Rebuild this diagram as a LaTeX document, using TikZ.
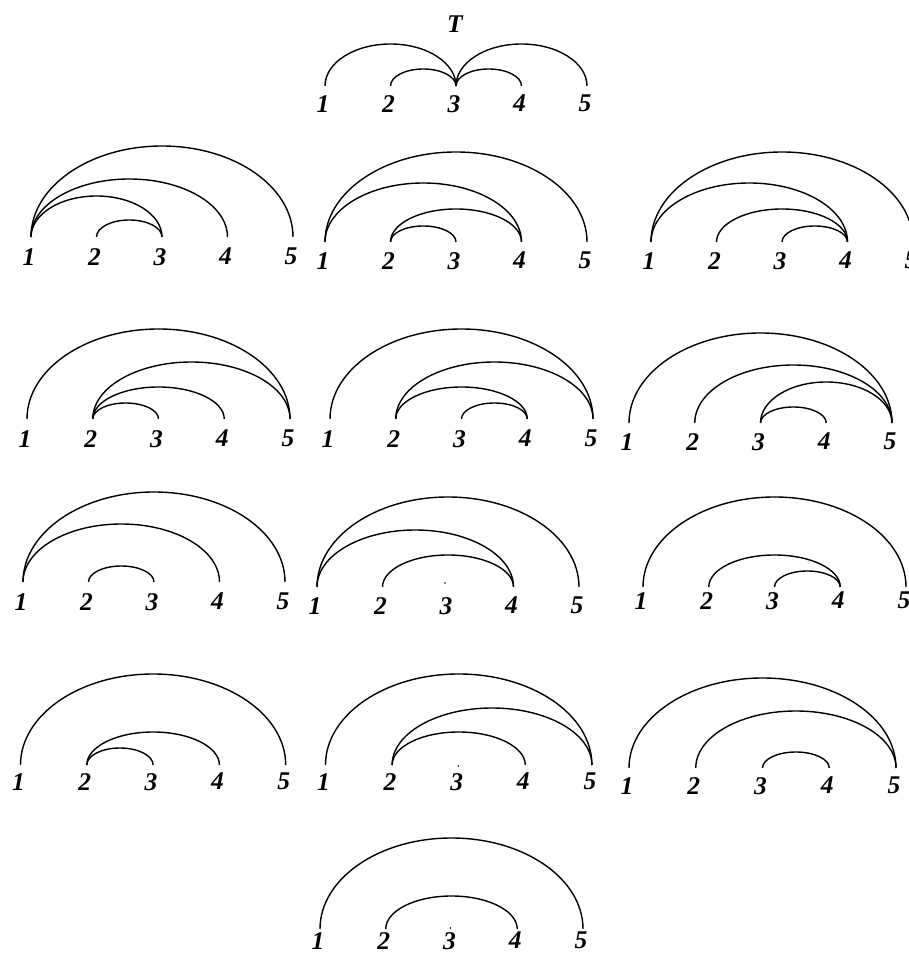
\documentclass[tikz,border=0pt]{standalone}
\usepackage{fontspec}
\setmainfont{Liberation Serif}
\usetikzlibrary{calc,positioning}

\tikzset{
  num/.style={font=\fontsize{25.5}{29}\selectfont\bfseries\itshape, inner sep=0pt},
  chord/.style={line width=1.4pt},
}
% five points of one diagram with their numbers: name, x of 1, y, step, gap
\newcommand{\pointrow}[5]{%
  \foreach \i in {1,...,5}{
    \coordinate (#1\i) at ({#2+#4*(\i-1)},#3);
    \node[num,below=#5pt of #1\i,xshift=-2pt] (#1n\i) {\i};
  }}
% half ellipse from #1 to #2 of height #3
\newcommand{\bow}[3]{%
  \draw[chord] let \p1=(#1), \p2=(#2) in
    (#1) arc[start angle=180,end angle=0,x radius={0.5*(\x2-\x1)},y radius=#3pt];}

\begin{document}
\begin{tikzpicture}[x=1pt,y=1pt]
\useasboundingbox (0,0) rectangle (908,956);

% top diagram
\node[num] (title) at (455,931.5) {T};
\pointrow{T}{325}{870}{65.5}{9}
\bow{T1}{T3}{42} \bow{T2}{T3}{17} \bow{T3}{T4}{17} \bow{T3}{T5}{42}

% first row
\pointrow{A}{31}{719}{65.5}{11}
\bow{A1}{A5}{91} \bow{A1}{A4}{58} \bow{A1}{A3}{41} \bow{A2}{A3}{17}
\pointrow{B}{325}{714}{65.5}{10}
\bow{B1}{B5}{90} \bow{B1}{B4}{59} \bow{B2}{B4}{33} \bow{B2}{B3}{16}
\pointrow{C}{651}{714}{65.5}{10}
\bow{C1}{C5}{90} \bow{C1}{C4}{59} \bow{C2}{C4}{33} \bow{C3}{C4}{16}

% second row
\pointrow{D}{27}{537}{65.75}{11}
\bow{D1}{D5}{90} \bow{D2}{D5}{57} \bow{D2}{D4}{32} \bow{D2}{D3}{16}
\pointrow{E}{330}{537}{65.75}{11}
\bow{E1}{E5}{90} \bow{E2}{E5}{57} \bow{E2}{E4}{32} \bow{E3}{E4}{16}
\pointrow{F}{629}{533}{65.75}{10}
\bow{F1}{F5}{90} \bow{F2}{F5}{58} \bow{F3}{F5}{41} \bow{F3}{F4}{16}

% third row
\pointrow{G}{23}{374}{65.5}{11}
\bow{G1}{G5}{90} \bow{G1}{G4}{58} \bow{G2}{G3}{16}
\pointrow{H}{317}{369}{65.5}{10}
\bow{H1}{H5}{90} \bow{H1}{H4}{57} \bow{H2}{H4}{32}
\fill ($(H3)+(-3,4)$) circle (0.8);
\pointrow{I}{643}{369}{65.75}{5}
\bow{I1}{I5}{90} \bow{I2}{I4}{32} \bow{I3}{I4}{16}

% fourth row
\pointrow{J}{20.5}{191}{66.3}{8}
\bow{J1}{J5}{91} \bow{J2}{J4}{33} \bow{J2}{J3}{17}
\pointrow{K}{325.5}{191}{66.6}{8}
\bow{K1}{K5}{91} \bow{K2}{K5}{57} \bow{K2}{K4}{33}
\fill ($(K3)+(-0.5,-1)$) circle (0.8);
\pointrow{L}{629}{188}{66.75}{9}
\bow{L1}{L5}{90} \bow{L2}{L5}{57} \bow{L3}{L4}{16}

% bottom diagram
\pointrow{M}{320}{27}{65.75}{3}
\bow{M1}{M5}{91} \bow{M2}{M4}{33}
\fill ($(M3)+(-1,1)$) circle (0.8);
\end{tikzpicture}
\end{document}
